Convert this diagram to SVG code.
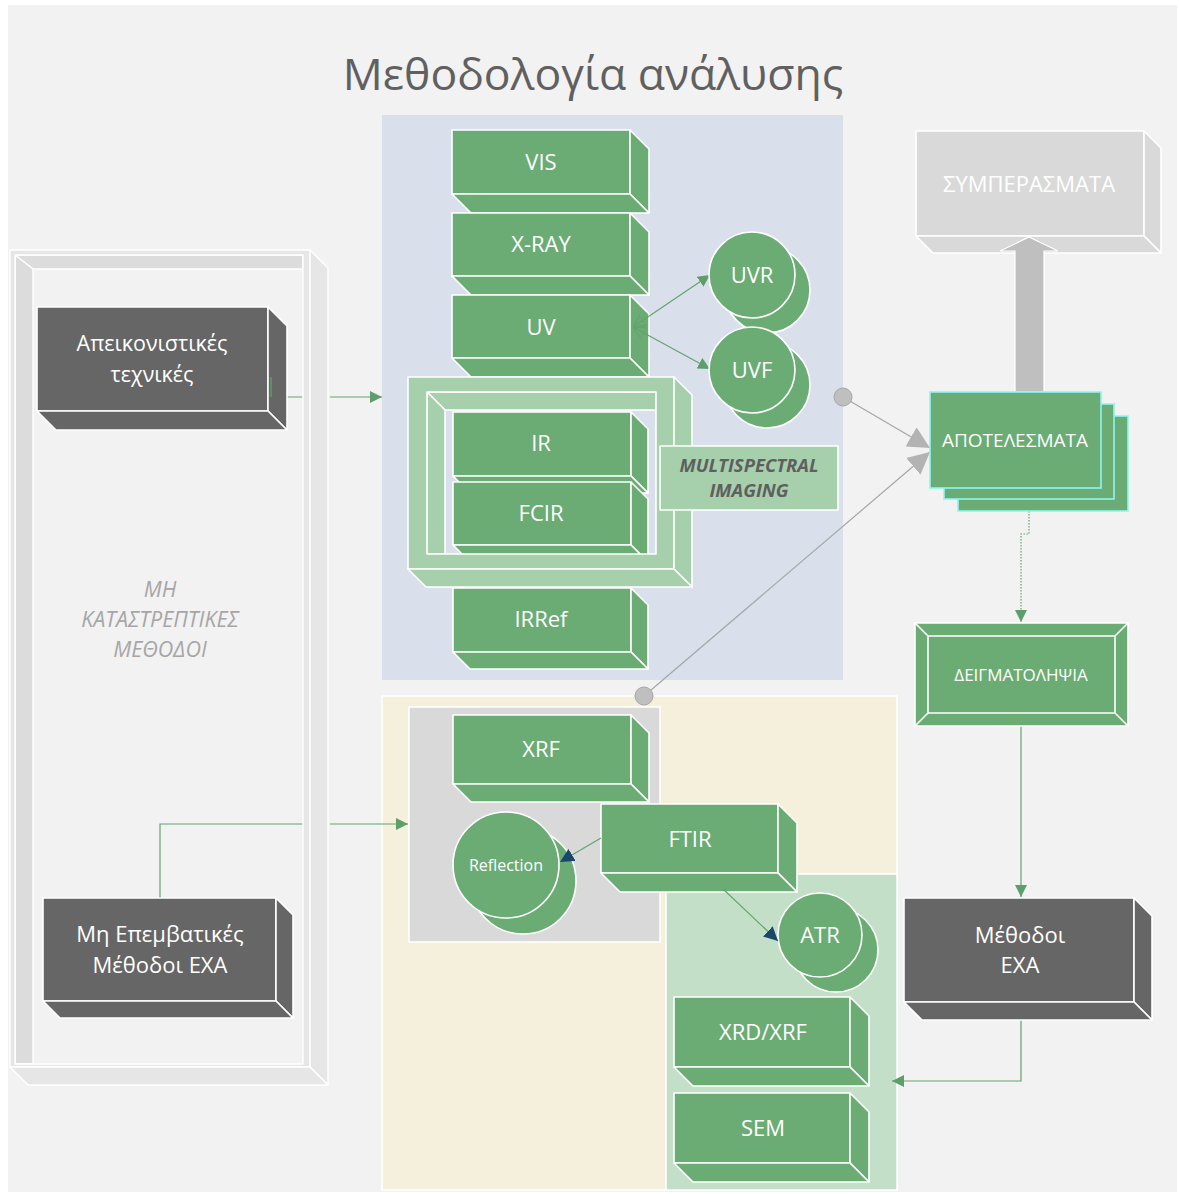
<svg xmlns="http://www.w3.org/2000/svg" width="1179" height="1194" viewBox="0 0 1179 1194">
<defs>
<style>
.g{fill:#6aac74;stroke:#fff;stroke-width:1.6;stroke-linejoin:round}
.lg{fill:#a6cfab;stroke:#fff;stroke-width:1.6;stroke-linejoin:round}
.dk{fill:#666;stroke:#fff;stroke-width:1.6;stroke-linejoin:round}
.gr{fill:#d9d9d9;stroke:#fff;stroke-width:1.6;stroke-linejoin:round}
.fr{fill:#e6e6e6;stroke:#fff;stroke-width:1.4;stroke-linejoin:round}
.fri{fill:#dcdcdc;stroke:#fff;stroke-width:1.4;stroke-linejoin:round}
.t{font-family:"Open Sans","Noto Sans",sans-serif;fill:#fff;text-anchor:middle}
.gl{fill:none;stroke:#64a36f;stroke-width:1.2}
.gy{fill:none;stroke:#a6a6a6;stroke-width:1.2}
</style>
<marker id="ag" viewBox="0 0 10 10" refX="10" refY="5" markerWidth="12" markerHeight="12" markerUnits="userSpaceOnUse" orient="auto"><path d="M0,0L10,5L0,10z" fill="#5e9f69"/></marker>
<marker id="an" viewBox="0 0 10 10" refX="10" refY="5" markerWidth="14" markerHeight="14" markerUnits="userSpaceOnUse" orient="auto"><path d="M0,0L10,5L0,10z" fill="#17476a"/></marker>
<marker id="ah" viewBox="0 0 10 10" refX="0" refY="5" markerWidth="12" markerHeight="12" markerUnits="userSpaceOnUse" orient="auto"><path d="M10,0L0,5L10,10z" fill="none" stroke="#64a36f" stroke-width="1"/></marker>
<marker id="agy" viewBox="0 0 10 10" refX="10" refY="5" markerWidth="22" markerHeight="22" markerUnits="userSpaceOnUse" orient="auto"><path d="M0,0L10,5L0,10z" fill="#b3b3b3"/></marker>
</defs>
<rect width="1179" height="1194" fill="#fff"/>
<rect x="8" y="5" width="1169" height="1187" fill="#f2f2f2"/>
<text x="593" y="90" font-family="'Open Sans','Noto Sans',sans-serif" font-size="44.5" fill="#606060" text-anchor="middle">Μεθοδολογία ανάλυσης</text>

<!-- panels -->
<rect x="382" y="115" width="461" height="565" fill="#d9e0ec"/>
<rect x="382" y="696" width="515" height="494" fill="#f5f0dc" stroke="#fff" stroke-width="1.5"/>
<rect x="409" y="707" width="251" height="235" fill="#d9d9d9" stroke="#fff" stroke-width="1.5"/>
<rect x="666" y="874" width="231" height="316" fill="#c4dfc7" stroke="#fff" stroke-width="1.5"/>

<!-- connectors -->
<g id="connectors">
<path class="gl" d="M271,377V397H303"/>
<path class="gl" d="M330,397H382" marker-end="url(#ag)"/>
<path class="gl" d="M160,898V824H303"/>
<path class="gl" d="M330,824H408" marker-end="url(#ag)"/>
<path class="gy" d="M843,397L930,448" marker-end="url(#agy)"/>
<path class="gy" d="M644,696L930,452" marker-end="url(#agy)"/>
<path d="M1029,511V534H1021V622" fill="none" stroke="#64a36f" stroke-width="1.2" stroke-dasharray="1.5,1.5" marker-end="url(#ag)"/>
<path class="gl" d="M1021,726L1021,897" marker-end="url(#ag)"/>
<path class="gl" d="M1021,1020V1081H892" marker-end="url(#ag)"/>
<circle cx="843" cy="397" r="9" fill="#bfbfbf" stroke="#a6a6a6" stroke-width="1"/>
<circle cx="644" cy="696" r="9" fill="#bfbfbf" stroke="#a6a6a6" stroke-width="1"/>
</g>

<!-- left frame -->
<g id="frame-left">
<polygon class="fri" points="15,255 303,255 303,269 33,269"/>
<polygon class="fri" points="15,255 33,269 33,1064 15,1064"/>
<path class="fr" fill-rule="evenodd" d="M10,250H310V1067H10Z M15,255V1064H303V255Z"/>
<polygon class="fr" points="310,250 328,268 328,1085 310,1067"/>
<polygon class="fr" points="10,1067 310,1067 328,1085 28,1085"/>
<text font-family="'Open Sans','Noto Sans',sans-serif" font-style="italic" font-size="21.5" fill="#a6a6a6" text-anchor="middle"><tspan x="160" y="597">ΜΗ</tspan><tspan x="160" y="627">ΚΑΤΑΣΤΡΕΠΤΙΚΕΣ</tspan><tspan x="160" y="657">ΜΕΘΟΔΟΙ</tspan></text>
</g>

<g id="apeik">
<rect class="dk" x="37" y="307" width="231" height="104"/>
<polygon class="dk" points="268,307 287,326 287,430 268,411"/>
<polygon class="dk" points="37,411 268,411 287,430 56,430"/>
<text class="t" font-size="21.5"><tspan x="152" y="351">Απεικονιστικές</tspan><tspan x="152" y="382">τεχνικές</tspan></text>
</g>
<path class="gl" d="M271,377V397"/>

<g id="mh-epemb">
<rect class="dk" x="43" y="898" width="233" height="103"/>
<polygon class="dk" points="276,898 293,915 293,1018 276,1001"/>
<polygon class="dk" points="43,1001 276,1001 293,1018 60,1018"/>
<text class="t" font-size="22"><tspan x="160" y="942">Μη Επεμβατικές</tspan><tspan x="160" y="973">Μέθοδοι ΕΧΑ</tspan></text>
</g>

<!-- imaging stack -->
<g id="vis">
<rect class="g" x="452" y="130" width="178" height="64"/>
<polygon class="g" points="630,130 649,149 649,213 630,194"/>
<polygon class="g" points="452,194 630,194 649,213 471,213"/>
<text class="t" font-size="22" x="541" y="170">VIS</text>
</g>
<g id="xray">
<rect class="g" x="452" y="213" width="178" height="63"/>
<polygon class="g" points="630,213 649,232 649,295 630,276"/>
<polygon class="g" points="452,276 630,276 649,295 471,295"/>
<text class="t" font-size="22" x="541" y="252">X-RAY</text>
</g>
<g id="uv">
<rect class="g" x="452" y="295" width="178" height="63"/>
<polygon class="g" points="630,295 649,314 649,377 630,358"/>
<polygon class="g" points="452,358 630,358 649,377 471,377"/>
<text class="t" font-size="22" x="541" y="335">UV</text>
</g>
<path class="gl" d="M633,327L710,275" marker-start="url(#ah)" marker-end="url(#ag)"/>
<path class="gl" d="M633,327L710,369" marker-start="url(#ah)" marker-end="url(#ag)"/>

<g id="uvr">
<circle class="g" cx="767" cy="290" r="43"/>
<circle class="g" cx="752" cy="275" r="43"/>
<text class="t" font-size="22" x="752" y="283">UVR</text>
</g>
<g id="uvf">
<circle class="g" cx="767" cy="385" r="43"/>
<circle class="g" cx="752" cy="370" r="43"/>
<text class="t" font-size="22" x="752" y="378">UVF</text>
</g>

<g id="multispectral">
<polygon class="lg" points="427,392 656,392 656,410 445,410"/>
<polygon class="lg" points="427,392 445,410 445,554 427,554"/>
<g id="ir">
<rect class="g" x="453" y="412" width="178" height="64"/>
<polygon class="g" points="631,412 648,429 648,493 631,476"/>
<polygon class="g" points="453,476 631,476 648,493 470,493"/>
<text class="t" font-size="22" x="541" y="451">IR</text>
</g>
<g id="fcir">
<rect class="g" x="453" y="482" width="178" height="63"/>
<polygon class="g" points="631,482 648,499 648,562 631,545"/>
<polygon class="g" points="453,545 631,545 648,562 470,562"/>
<text class="t" font-size="22" x="541" y="521">FCIR</text>
</g>
<path class="lg" fill-rule="evenodd" d="M408,377H674V569H408Z M427,392V554H656V392Z"/>
<polygon class="lg" points="674,377 692,395 692,587 674,569"/>
<polygon class="lg" points="408,569 674,569 692,587 426,587"/>
<rect class="lg" x="660" y="446" width="178" height="64"/>
<text font-family="'Open Sans','Noto Sans',sans-serif" font-weight="bold" font-style="italic" font-size="18.5" fill="#5f5f5f" text-anchor="middle"><tspan x="749" y="472">MULTISPECTRAL</tspan><tspan x="749" y="497">IMAGING</tspan></text>
</g>

<g id="irref">
<rect class="g" x="453" y="588" width="178" height="64"/>
<polygon class="g" points="631,588 648,605 648,669 631,652"/>
<polygon class="g" points="453,652 631,652 648,669 470,669"/>
<text class="t" font-size="22" x="541" y="627">IRRef</text>
</g>

<!-- results -->
<g id="symperasmata">
<rect class="gr" x="916" y="131" width="228" height="105"/>
<polygon class="gr" points="1144,131 1161,148 1161,253 1144,236"/>
<polygon class="gr" points="916,236 1144,236 1161,253 933,253"/>
<text class="t" font-size="22" x="1029" y="192" fill="#f4f4f4">ΣΥΜΠΕΡΑΣΜΑΤΑ</text>
</g>
<polygon id="big-arrow" points="1015,392 1015,251 1000,251 1029,237 1058,251 1044,251 1044,392" fill="#bfbfbf" stroke="#fff" stroke-width="1.2"/>

<g id="apotelesmata">
<rect x="958" y="416" width="170" height="95" fill="#6aac74" stroke="#8ef5f0" stroke-width="1.6"/>
<rect x="944" y="404" width="170" height="95" fill="#6aac74" stroke="#8ef5f0" stroke-width="1.6"/>
<rect x="930" y="392" width="171" height="96" fill="#6aac74" stroke="#8ef5f0" stroke-width="1.6"/>
<text class="t" font-size="19" x="1015" y="447">ΑΠΟΤΕΛΕΣΜΑΤΑ</text>
</g>

<g id="deigmatolipsia">
<rect class="g" x="915" y="623" width="213" height="103"/>
<rect class="g" x="928" y="636" width="187" height="77"/>
<path d="M915,623L928,636M1128,623L1115,636M915,726L928,713M1128,726L1115,713" stroke="#fff" stroke-width="1.6"/>
<text class="t" font-size="17" x="1021" y="681">ΔΕΙΓΜΑΤΟΛΗΨΙΑ</text>
</g>

<g id="methodoi-exa">
<rect class="dk" x="904" y="898" width="230" height="104"/>
<polygon class="dk" points="1134,898 1152,916 1152,1020 1134,1002"/>
<polygon class="dk" points="904,1002 1134,1002 1152,1020 922,1020"/>
<text class="t" font-size="22"><tspan x="1020" y="943">Μέθοδοι</tspan><tspan x="1020" y="973">ΕΧΑ</tspan></text>
</g>

<!-- analysis -->
<g id="xrf">
<rect class="g" x="453" y="715" width="178" height="69"/>
<polygon class="g" points="631,715 649,733 649,802 631,784"/>
<polygon class="g" points="453,784 631,784 649,802 471,802"/>
<text class="t" font-size="22" x="541" y="757">XRF</text>
</g>
<g id="reflection">
<circle class="g" cx="523" cy="881" r="53"/>
<circle class="g" cx="506" cy="865" r="53"/>
<text class="t" font-size="16" x="506" y="871">Reflection</text>
</g>
<g id="ftir">
<rect class="g" x="601" y="804" width="177" height="69"/>
<polygon class="g" points="778,804 797,823 797,892 778,873"/>
<polygon class="g" points="601,873 778,873 797,892 620,892"/>
<text class="t" font-size="22" x="690" y="847">FTIR</text>
</g>
<path class="gl" d="M601,838L560,862" marker-end="url(#an)"/>
<g id="atr">
<circle class="g" cx="836" cy="950" r="42"/>
<circle class="g" cx="820" cy="935" r="42"/>
<text class="t" font-size="22" x="820" y="943">ATR</text>
</g>
<path class="gl" d="M723,889L778,941" marker-end="url(#an)"/>
<g id="xrd-xrf">
<rect class="g" x="674" y="997" width="176" height="70"/>
<polygon class="g" points="850,997 869,1016 869,1086 850,1067"/>
<polygon class="g" points="674,1067 850,1067 869,1086 693,1086"/>
<text class="t" font-size="22" x="763" y="1040">XRD/XRF</text>
</g>
<g id="sem">
<rect class="g" x="674" y="1093" width="176" height="70"/>
<polygon class="g" points="850,1093 869,1112 869,1182 850,1163"/>
<polygon class="g" points="674,1163 850,1163 869,1182 693,1182"/>
<text class="t" font-size="22" x="763" y="1136">SEM</text>
</g>
</svg>
